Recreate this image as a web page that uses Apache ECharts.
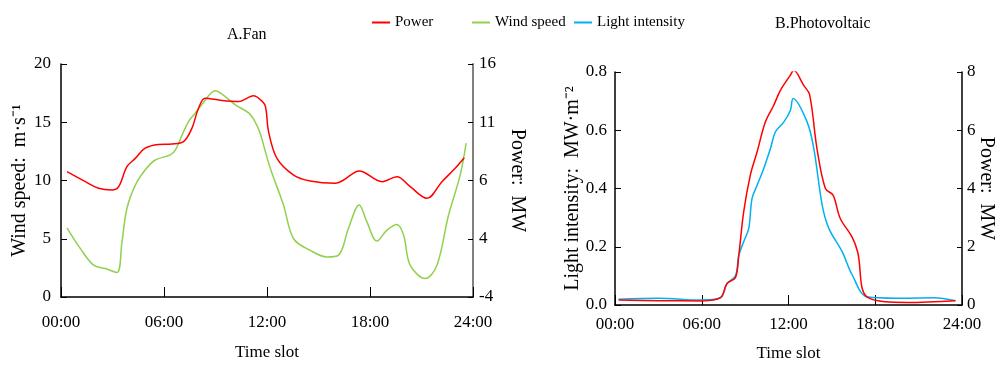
<!DOCTYPE html>
<html>
<head>
<meta charset="utf-8">
<script src="https://cdn.jsdelivr.net/npm/echarts@6/dist/echarts.min.js"></script>
<style>
  html, body { margin: 0; padding: 0; background: #fff; }
  #chart { width: 997px; height: 372px; }
</style>
</head>
<body>
<div id="chart"></div>
<script>
// time axis
const timeLabels = ['00:00', '06:00', '12:00', '18:00', '24:00']

// A. Fan - wind speed (m/s)
const fanWindHours = [0.35, 1.12, 1.9, 2.58, 3.26, 3.55, 3.84, 4.33, 4.9, 5.49, 6.37, 6.66, 7.05, 7.43, 7.82, 8.2, 8.99, 9.57, 10.15, 10.93, 11.3, 11.6, 11.9, 12.19, 12.96, 13.55, 14.52, 15.49, 16.17, 16.75, 17.37, 17.82, 18.4, 18.99, 19.57, 19.96, 20.34, 21.22, 21.9, 22.57, 23.26, 23.6]
const fanWind = [5.94, 4.17, 2.73, 2.44, 2.1, 4.7, 7.6, 9.6, 10.9, 11.76, 12.2, 12.6, 13.9, 15.06, 15.78, 16.5, 17.7, 17.2, 16.5, 15.8, 15.06, 14.06, 12.5, 11.05, 7.9, 5.0, 4.0, 3.44, 3.6, 5.9, 7.9, 6.45, 4.8, 5.74, 6.23, 5.3, 2.73, 1.58, 2.73, 7.0, 10.5, 13.2]

// A. Fan - power (MW)
const fanPowerHours = [0.35, 1.42, 2.19, 2.97, 3.36, 3.84, 4.33, 4.9, 5.68, 6.46, 7.14, 7.63, 8.01, 8.4, 9.38, 10.34, 11.22, 11.6, 11.9, 12.09, 12.58, 13.55, 14.52, 15.98, 16.46, 17.37, 18.7, 19.57, 20.34, 21.32, 22.19, 22.96, 23.49]
const fanPower = [6.76, 5.9, 5.33, 5.18, 5.47, 7.19, 7.9, 8.77, 9.1, 9.14, 9.34, 10.5, 12.2, 13.07, 12.87, 12.78, 13.27, 12.95, 12.4, 10.2, 7.9, 6.47, 5.96, 5.76, 6.04, 6.82, 5.9, 6.33, 5.47, 4.47, 5.9, 7.05, 7.96]
const fanPowerTicks = [-4, 1, 6, 11, 16]
const fanPowerTickLabels = ['-4', '4', '6', '11', '16']

// B. Photovoltaic - light intensity (MW/m2)
const pvLightHours = [0.25, 3, 6, 7.29, 7.75, 8.33, 8.56, 8.9, 9.25, 9.48, 9.83, 10.29, 10.75, 11.09, 11.67, 12.13, 12.32, 13.29, 13.75, 14.33, 14.79, 15.71, 16.41, 17.44, 19.51, 22.05, 23.55]
const pvLight = [0.02, 0.023, 0.017, 0.025, 0.074, 0.1, 0.17, 0.217, 0.263, 0.366, 0.411, 0.469, 0.537, 0.594, 0.628, 0.668, 0.709, 0.628, 0.537, 0.343, 0.263, 0.183, 0.103, 0.028, 0.023, 0.025, 0.015]

// B. Photovoltaic - power (MW)
const pvPowerHours = [0.25, 3, 6, 7.29, 7.75, 8.33, 8.56, 8.9, 9.36, 9.83, 10.4, 10.98, 11.44, 12.13, 12.36, 13.05, 13.46, 13.97, 14.55, 15.08, 15.58, 16.39, 16.78, 17.47, 20.2, 23.55]
const pvPower = [0.17, 0.15, 0.14, 0.25, 0.74, 0.94, 1.7, 3.2, 4.46, 5.26, 6.28, 6.86, 7.37, 7.89, 8.06, 7.54, 7.22, 5.37, 4.0, 3.77, 2.97, 2.34, 1.83, 0.26, 0.09, 0.15]

const pairs = (xs, ys) => xs.map((x, i) => [x, ys[i]])

const FONT = 'Liberation Serif'
const RED = '#ff0000'
const GREEN = '#92d050'
const BLUE = '#00b0f0'

const baseText = { fontFamily: FONT, color: '#000', fontSize: 17 }

const timeAxis = (gridIndex, labelMargin, nameGap) => ({
  type: 'value',
  gridIndex,
  min: 0,
  max: 24,
  interval: 6,
  name: 'Time slot',
  nameLocation: 'middle',
  nameGap,
  nameTextStyle: { ...baseText, fontSize: 17 },
  axisLine: { show: true, lineStyle: { color: '#000', width: 1.5 } },
  axisTick: { show: true, inside: true, length: 10, lineStyle: { color: '#000' } },
  axisLabel: { ...baseText, margin: labelMargin, formatter: (v) => timeLabels[Math.round(v / 6)] },
  splitLine: { show: false }
})

const lineSeries = (name, data, color, xAxisIndex, yAxisIndex) => ({
  name,
  type: 'line',
  data,
  xAxisIndex,
  yAxisIndex,
  smooth: 0.35,
  showSymbol: false,
  lineStyle: { color, width: 1.5 },
  itemStyle: { color }
})

const legendItem = (name, left) => ({
  data: [name],
  left,
  top: 10,
  icon: 'rect',
  itemWidth: 18,
  itemHeight: 2,
  textStyle: { ...baseText, fontSize: 15 }
})

const chart = echarts.init(document.getElementById('chart'))
chart.setOption({
  animation: false,
  backgroundColor: '#fff',
  title: [
    { text: 'A.Fan', left: 222, top: 22, textStyle: { ...baseText, fontSize: 16, fontWeight: 'normal' } },
    { text: 'B.Photovoltaic', left: 770, top: 11, textStyle: { ...baseText, fontSize: 16, fontWeight: 'normal' } }
  ],
  legend: [
    legendItem('Power', 367),
    legendItem('Wind speed', 467),
    legendItem('Light intensity', 569)
  ],
  grid: [
    { left: 61, right: 524, top: 64, bottom: 75, outerBoundsMode: 'none' },
    { left: 615, right: 35, top: 72, bottom: 67, outerBoundsMode: 'none' }
  ],
  xAxis: [timeAxis(0, 17, 47), timeAxis(1, 11, 40)],
  yAxis: [
    {
      type: 'value',
      gridIndex: 0,
      min: 0,
      max: 20,
      interval: 5,
      name: 'Wind speed:  m·s⁻¹',
      nameLocation: 'middle',
      nameGap: 31,
      nameMoveOverlap: false,
      nameTextStyle: { ...baseText, fontSize: 20 },
      axisLine: { show: true, lineStyle: { color: '#000', width: 1.5 } },
      axisTick: { show: true, inside: true, length: 6, lineStyle: { color: '#000' } },
      axisLabel: { ...baseText, margin: 10 },
      splitLine: { show: false }
    },
    {
      type: 'value',
      gridIndex: 0,
      position: 'right',
      min: -4,
      max: 16,
      name: 'Power:  MW',
      nameLocation: 'middle',
      nameRotate: -90,
      nameGap: 34,
      nameMoveOverlap: false,
      nameTextStyle: { ...baseText, fontSize: 20 },
      axisLine: { show: true, lineStyle: { color: '#808080', width: 2 } },
      axisTick: { show: true, inside: true, length: 5, customValues: fanPowerTicks, lineStyle: { color: '#000' } },
      axisLabel: {
        ...baseText,
        margin: 6,
        customValues: fanPowerTicks,
        formatter: (v) => fanPowerTickLabels[fanPowerTicks.indexOf(v)]
      },
      splitLine: { show: false }
    },
    {
      type: 'value',
      gridIndex: 1,
      min: 0,
      max: 0.8,
      interval: 0.2,
      name: 'Light intensity:  MW·m⁻²',
      nameLocation: 'middle',
      nameGap: 32,
      nameMoveOverlap: false,
      nameTextStyle: { ...baseText, fontSize: 20 },
      axisLine: { show: true, lineStyle: { color: '#000', width: 1.5 } },
      axisTick: { show: true, inside: true, length: 6, lineStyle: { color: '#000' } },
      axisLabel: { ...baseText, margin: 8, formatter: (v) => v.toFixed(1) },
      splitLine: { show: false }
    },
    {
      type: 'value',
      gridIndex: 1,
      position: 'right',
      min: 0,
      max: 8,
      interval: 2,
      name: 'Power:  MW',
      nameLocation: 'middle',
      nameRotate: -90,
      nameGap: 14,
      nameMoveOverlap: false,
      nameTextStyle: { ...baseText, fontSize: 20 },
      axisLine: { show: true, lineStyle: { color: '#000', width: 1.5 } },
      axisTick: { show: true, inside: true, length: 5, lineStyle: { color: '#000' } },
      axisLabel: { ...baseText, margin: 5 },
      splitLine: { show: false }
    }
  ],
  series: [
    lineSeries('Wind speed', pairs(fanWindHours, fanWind), GREEN, 0, 0),
    lineSeries('Power', pairs(fanPowerHours, fanPower), RED, 0, 1),
    lineSeries('Light intensity', pairs(pvLightHours, pvLight), BLUE, 1, 2),
    lineSeries('Power', pairs(pvPowerHours, pvPower), RED, 1, 3)
  ]
})
</script>
</body>
</html>
